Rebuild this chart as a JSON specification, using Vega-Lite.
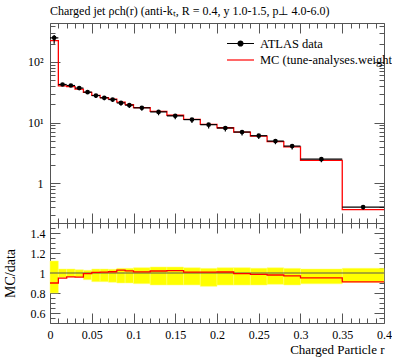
{
  "$schema": "https://vega.github.io/schema/vega-lite/v6.json",
  "autosize": {"type": "pad"},
  "padding": {"left": 2, "top": 5, "right": 0, "bottom": 4},
  "title": {"text": "Charged jet ρch(r) (anti-kₜ, R = 0.4, y 1.0-1.5, p⊥ 4.0-6.0)", "anchor": "start", "frame": "group", "font": "Liberation Serif", "fontSize": 12, "fontWeight": "normal", "color": "black", "offset": 1},
  "datasets": {
    "bins": [
      {"i": 0, "x0": 0, "x1": 0.01, "data": 250, "elo": 50, "ehi": 30, "mc": 225},
      {"i": 1, "x0": 0.01, "x1": 0.02, "data": 42.5, "elo": 1.9, "ehi": 1.7, "mc": 40.3},
      {"i": 2, "x0": 0.02, "x1": 0.03, "data": 40.9, "elo": 1.64, "ehi": 1.64, "mc": 39.3},
      {"i": 3, "x0": 0.03, "x1": 0.04, "data": 37.1, "elo": 1.48, "ehi": 1.22, "mc": 35.6},
      {"i": 4, "x0": 0.04, "x1": 0.05, "data": 31.8, "elo": 2.13, "ehi": 0.86, "mc": 31.6},
      {"i": 5, "x0": 0.05, "x1": 0.06, "data": 27.9, "elo": 2.43, "ehi": 1.12, "mc": 28.1},
      {"i": 6, "x0": 0.06, "x1": 0.07, "data": 25.6, "elo": 2.23, "ehi": 1.02, "mc": 25.8},
      {"i": 7, "x0": 0.07, "x1": 0.08, "data": 24.0, "elo": 2.23, "ehi": 0.89, "mc": 24.3},
      {"i": 8, "x0": 0.08, "x1": 0.09, "data": 21.1, "elo": 2.11, "ehi": 0.99, "mc": 21.7},
      {"i": 9, "x0": 0.09, "x1": 0.1, "data": 19.4, "elo": 1.94, "ehi": 0.91, "mc": 19.8},
      {"i": 10, "x0": 0.1, "x1": 0.12, "data": 17.5, "elo": 1.87, "ehi": 0.93, "mc": 17.7},
      {"i": 11, "x0": 0.12, "x1": 0.14, "data": 15.0, "elo": 1.8, "ehi": 0.9, "mc": 15.3},
      {"i": 12, "x0": 0.14, "x1": 0.16, "data": 12.9, "elo": 1.55, "ehi": 0.77, "mc": 13.2},
      {"i": 13, "x0": 0.16, "x1": 0.18, "data": 11.2, "elo": 1.34, "ehi": 0.59, "mc": 11.3},
      {"i": 14, "x0": 0.18, "x1": 0.2, "data": 9.23, "elo": 1.23, "ehi": 0.43, "mc": 9.32},
      {"i": 15, "x0": 0.2, "x1": 0.22, "data": 8.13, "elo": 0.98, "ehi": 0.43, "mc": 8.21},
      {"i": 16, "x0": 0.22, "x1": 0.24, "data": 6.98, "elo": 0.84, "ehi": 0.37, "mc": 6.93},
      {"i": 17, "x0": 0.24, "x1": 0.26, "data": 6.07, "elo": 0.73, "ehi": 0.29, "mc": 5.99},
      {"i": 18, "x0": 0.26, "x1": 0.28, "data": 4.95, "elo": 0.56, "ehi": 0.26, "mc": 4.85},
      {"i": 19, "x0": 0.28, "x1": 0.3, "data": 4.09, "elo": 0.49, "ehi": 0.19, "mc": 3.97},
      {"i": 20, "x0": 0.3, "x1": 0.35, "data": 2.49, "elo": 0.27, "ehi": 0.1, "mc": 2.37},
      {"i": 21, "x0": 0.35, "x1": 0.4, "data": 0.403, "elo": 0.037, "ehi": 0.019, "mc": 0.367}
    ],
    "unity": [{"ratio": 1}]
  },
  "vconcat": [
    {
      "width": 334,
      "height": 200,
      "data": {"name": "bins"},
      "resolve": {"axis": {"x": "independent", "y": "independent"}},
      "layer": [
        {
          "transform": [{"fold": ["x0", "x1"], "as": ["edge", "x"]}],
          "mark": {"type": "line", "strokeWidth": 1.3},
          "encoding": {
            "x": {"field": "x", "type": "quantitative", "scale": {"domain": [0, 0.4], "nice": false, "zero": false},
              "axis": {"orient": "bottom", "title": null, "labels": false, "values": [0,0.01,0.02,0.03,0.04,0.05,0.06,0.07,0.08,0.09,0.1,0.11,0.12,0.13,0.14,0.15,0.16,0.17,0.18,0.19,0.2,0.21,0.22,0.23,0.24,0.25,0.26,0.27,0.28,0.29,0.3,0.31,0.32,0.33,0.34,0.35,0.36,0.37,0.38,0.39,0.4],
                "tickSize": {"condition": {"test": "abs(datum.value*20-round(datum.value*20))<0.001", "value": -10}, "value": -5}}},
            "y": {"field": "mc", "type": "quantitative", "scale": {"type": "log", "domain": [0.22, 440], "nice": false},
              "axis": {"orient": "left", "title": null, "values": [0.3,0.4,0.5,0.6,0.7,0.8,0.9,1,2,3,4,5,6,7,8,9,10,20,30,40,50,60,70,80,90,100,200,300,400],
                "labelExpr": "datum.value==100?'10²':datum.value==10?'10¹':datum.value==1?'1':''", "labelOverlap": false, "labelPadding": 17,
                "tickSize": {"condition": {"test": "datum.value==1||datum.value==10||datum.value==100", "value": -10}, "value": -5}}},
            "order": [{"field": "i", "type": "quantitative"}, {"field": "edge", "type": "nominal"}],
            "color": {"datum": "MC (tune-analyses.weight", "type": "nominal",
              "scale": {"domain": ["ATLAS data", "MC (tune-analyses.weight"], "range": ["black", "red"]},
              "legend": {"orient": "none", "legendX": 183, "legendY": 13, "title": null, "padding": 0, "rowPadding": 2.5, "labelOffset": 12,
                "labelFont": "Liberation Serif", "labelFontSize": 12.5, "labelColor": "black", "symbolSize": 182, "symbolStrokeWidth": 1.2, "symbolType": "stroke",
                "encode": {"symbols": {"update": {
                  "shape": {"signal": "datum.value === 'ATLAS data' ? 'M-2,0H2M-0.36,0A0.36,0.36,0,1,0,0.36,0A0.36,0.36,0,1,0,-0.36,0Z' : 'M-2,0H2'"},
                  "fill": {"signal": "datum.value === 'ATLAS data' ? 'black' : 'transparent'"}}}}}}
          }
        },
        {
          "mark": {"type": "rule", "strokeWidth": 1.2},
          "encoding": {
            "x": {"field": "x0", "type": "quantitative",
              "axis": {"orient": "top", "title": null, "labels": false, "values": [0,0.01,0.02,0.03,0.04,0.05,0.06,0.07,0.08,0.09,0.1,0.11,0.12,0.13,0.14,0.15,0.16,0.17,0.18,0.19,0.2,0.21,0.22,0.23,0.24,0.25,0.26,0.27,0.28,0.29,0.3,0.31,0.32,0.33,0.34,0.35,0.36,0.37,0.38,0.39,0.4],
                "tickSize": {"condition": {"test": "abs(datum.value*20-round(datum.value*20))<0.001", "value": -10}, "value": -5}}},
            "x2": {"field": "x1"},
            "y": {"field": "data", "type": "quantitative",
              "axis": {"orient": "right", "title": null, "labels": false, "values": [0.3,0.4,0.5,0.6,0.7,0.8,0.9,1,2,3,4,5,6,7,8,9,10,20,30,40,50,60,70,80,90,100,200,300,400],
                "tickSize": {"condition": {"test": "datum.value==1||datum.value==10||datum.value==100", "value": -10}, "value": -5}}},
            "color": {"datum": "ATLAS data", "type": "nominal"}
          }
        },
        {
          "transform": [
            {"calculate": "(datum.x0+datum.x1)/2", "as": "xc"},
            {"calculate": "datum.data-datum.elo", "as": "ylo"},
            {"calculate": "datum.data+datum.ehi", "as": "yhi"}
          ],
          "mark": {"type": "rule", "color": "black", "strokeWidth": 1.2},
          "encoding": {
            "x": {"field": "xc", "type": "quantitative", "axis": null},
            "y": {"field": "ylo", "type": "quantitative", "axis": null},
            "y2": {"field": "yhi"}
          }
        },
        {
          "transform": [{"calculate": "(datum.x0+datum.x1)/2", "as": "xc"}],
          "mark": {"type": "circle", "color": "black", "size": 22, "opacity": 1},
          "encoding": {
            "x": {"field": "xc", "type": "quantitative", "axis": null},
            "y": {"field": "data", "type": "quantitative", "axis": null}
          }
        }
      ]
    },
    {
      "width": 334,
      "height": 100,
      "resolve": {"axis": {"x": "independent", "y": "independent"}},
      "layer": [
        {
          "data": {"name": "bins"},
          "transform": [
            {"calculate": "1-datum.elo/datum.data", "as": "rlo"},
            {"calculate": "1+datum.ehi/datum.data", "as": "rhi"}
          ],
          "mark": {"type": "rect", "color": "#ffff00", "stroke": "#ffff77", "strokeWidth": 0.5},
          "encoding": {
            "x": {"field": "x0", "type": "quantitative", "scale": {"domain": [0, 0.4], "nice": false, "zero": false},
              "axis": {"orient": "bottom", "title": "Charged Particle r", "titleAnchor": "end", "titleFontSize": 13, "titlePadding": -2,
                "values": [0,0.01,0.02,0.03,0.04,0.05,0.06,0.07,0.08,0.09,0.1,0.11,0.12,0.13,0.14,0.15,0.16,0.17,0.18,0.19,0.2,0.21,0.22,0.23,0.24,0.25,0.26,0.27,0.28,0.29,0.3,0.31,0.32,0.33,0.34,0.35,0.36,0.37,0.38,0.39,0.4],
                "labelExpr": "abs(datum.value*20-round(datum.value*20))<0.001 ? format(datum.value,'~g') : ''", "labelOverlap": false, "labelPadding": 16, "labelFlush": false,
                "tickSize": {"condition": {"test": "abs(datum.value*20-round(datum.value*20))<0.001", "value": -10}, "value": -5}}},
            "x2": {"field": "x1"},
            "y": {"field": "rlo", "type": "quantitative", "scale": {"domain": [0.5, 1.5], "nice": false, "zero": false},
              "axis": {"orient": "left", "title": "MC/data", "titleFontSize": 14, "titleX": -33, "titleY": 50,
                "values": [0.55,0.6,0.65,0.7,0.75,0.8,0.85,0.9,0.95,1,1.05,1.1,1.15,1.2,1.25,1.3,1.35,1.4,1.45],
                "labelExpr": "abs(datum.value*5-round(datum.value*5))<0.001 ? format(datum.value,'~g') : ''", "labelOverlap": false, "labelPadding": 15,
                "tickSize": {"condition": {"test": "abs(datum.value*5-round(datum.value*5))<0.001", "value": -10}, "value": -5}}},
            "y2": {"field": "rhi"}
          }
        },
        {
          "data": {"name": "unity"},
          "mark": {"type": "rule", "color": "#555", "strokeWidth": 1},
          "encoding": {
            "y": {"field": "ratio", "type": "quantitative",
              "axis": {"orient": "right", "title": null, "labels": false,
                "values": [0.55,0.6,0.65,0.7,0.75,0.8,0.85,0.9,0.95,1,1.05,1.1,1.15,1.2,1.25,1.3,1.35,1.4,1.45],
                "tickSize": {"condition": {"test": "abs(datum.value*5-round(datum.value*5))<0.001", "value": -10}, "value": -5}}}
          }
        },
        {
          "data": {"name": "bins"},
          "transform": [
            {"calculate": "datum.mc/datum.data", "as": "ratio"},
            {"fold": ["x0", "x1"], "as": ["edge", "x"]}
          ],
          "mark": {"type": "line", "color": "red", "strokeWidth": 1.3},
          "encoding": {
            "x": {"field": "x", "type": "quantitative",
              "axis": {"orient": "top", "title": null, "labels": false,
                "values": [0,0.01,0.02,0.03,0.04,0.05,0.06,0.07,0.08,0.09,0.1,0.11,0.12,0.13,0.14,0.15,0.16,0.17,0.18,0.19,0.2,0.21,0.22,0.23,0.24,0.25,0.26,0.27,0.28,0.29,0.3,0.31,0.32,0.33,0.34,0.35,0.36,0.37,0.38,0.39,0.4],
                "tickSize": {"condition": {"test": "abs(datum.value*20-round(datum.value*20))<0.001", "value": -10}, "value": -5}}},
            "y": {"field": "ratio", "type": "quantitative", "axis": null},
            "order": [{"field": "i", "type": "quantitative"}, {"field": "edge", "type": "nominal"}]
          }
        }
      ]
    }
  ],
  "spacing": 0,
  "bounds": "flush",
  "config": {
    "font": "Liberation Serif",
    "view": {"stroke": "#555", "strokeWidth": 1},
    "axis": {"domain": false, "grid": false, "labelFont": "Liberation Serif", "labelFontSize": 12, "labelColor": "black", "tickColor": "#555", "tickWidth": 1, "titleFont": "Liberation Serif", "titleFontWeight": "normal", "titleColor": "black"}
  }
}
